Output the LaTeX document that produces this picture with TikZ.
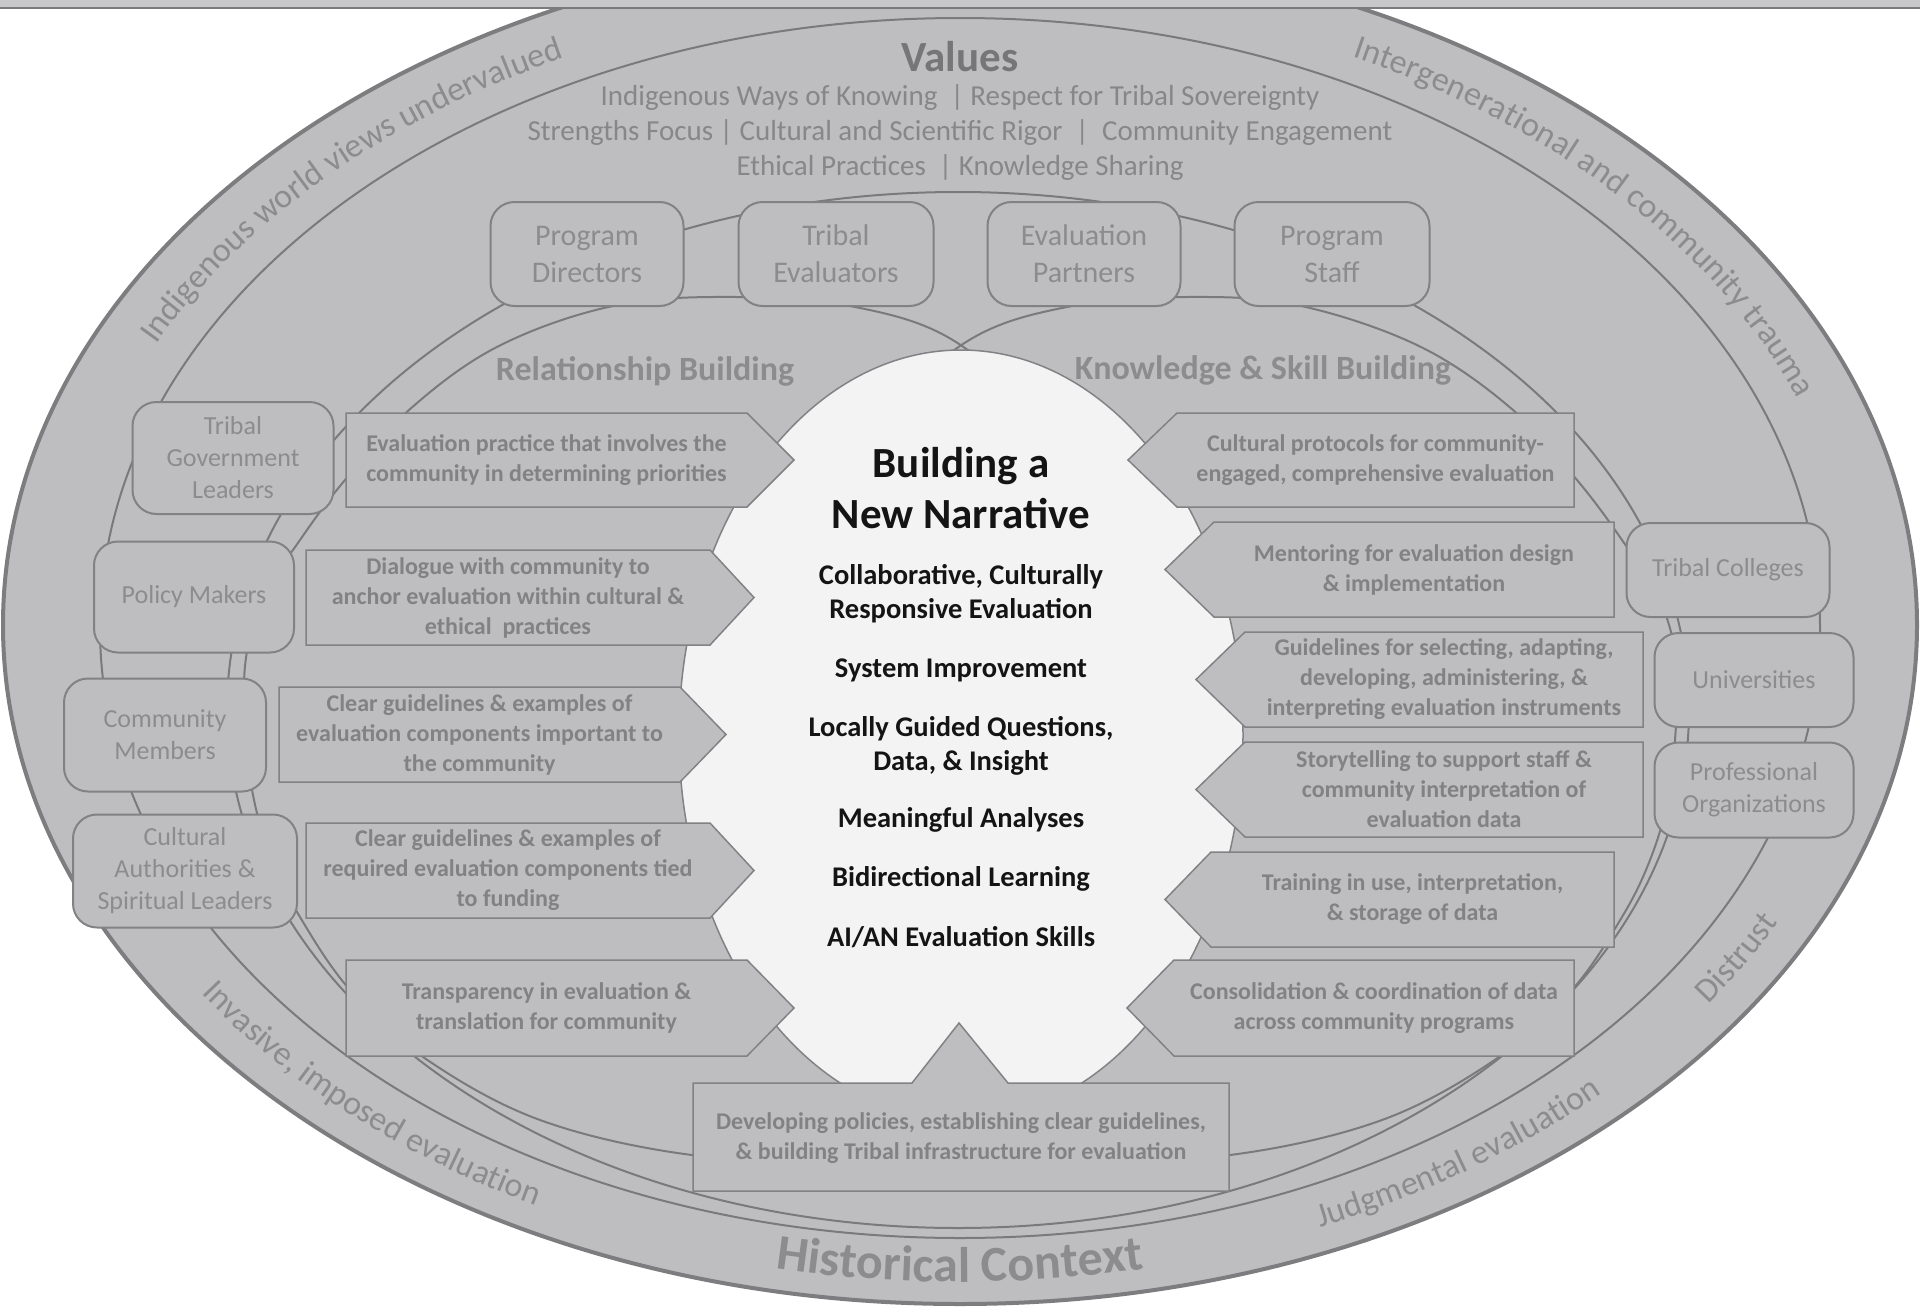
\documentclass[tikz,border=0pt]{standalone}
\usepackage{fontspec}
\setmainfont{Carlito}
\usetikzlibrary{decorations.text}
\definecolor{ringfill}{RGB}{190,190,193}
\definecolor{ringline}{RGB}{122,122,125}
\definecolor{outerline}{RGB}{125,125,128}
\definecolor{boxline}{RGB}{130,130,133}
\definecolor{staketext}{RGB}{140,140,142}
\definecolor{arrtext}{RGB}{130,130,132}
\definecolor{valtext}{RGB}{135,135,137}
\definecolor{headtext}{RGB}{118,118,120}
\definecolor{centerfill}{RGB}{243,243,244}
\definecolor{ringtext}{RGB}{140,140,143}
\definecolor{bandfill}{RGB}{200,200,203}
\newcommand{\ringfont}{\fontsize{34}{40}\selectfont}
\newcommand{\histfont}{\bfseries\fontsize{50}{56}\selectfont}
\begin{document}
\begin{tikzpicture}[x=1pt,y=-1pt,
  ringpath/.style={draw=ringline, line width=2pt},
  stake/.style={draw=boxline, line width=2pt, fill=ringfill, rounded corners=24pt, align=center, text=staketext, inner sep=0pt, font=\fontsize{26}{32}\selectfont},
  topstake/.style={stake, font=\fontsize{30}{37}\selectfont},
  arrowbox/.style={draw=boxline, line width=1.5pt, fill=ringfill},
  arrowtext/.style={align=center, text=arrtext, font=\bfseries\fontsize{24}{30}\selectfont},
  centertitle/.style={align=center, text=black!92, font=\bfseries\fontsize{43}{51}\selectfont},
  centertext/.style={align=center, text=black!92, font=\bfseries\fontsize{28.5}{34}\selectfont},
  ringlabel/.style={decorate, decoration={text along path, text align=center, text color=ringtext}},
  zonelabel/.style={text=staketext, font=\bfseries\fontsize{34}{40}\selectfont}
]
\useasboundingbox (0,0) rectangle (1920,1309);
\clip (0,0) rectangle (1920,1309);
\fill[white] (0,0) rectangle (1920,1309);

% rings
\draw[fill=ringfill, draw=outerline, line width=4pt] (960,625) ellipse [x radius=957pt, y radius=679pt];
\draw[ringpath] (960,628) ellipse [x radius=860pt, y radius=610pt];
\draw[ringpath] (958,710) ellipse [x radius=731pt, y radius=518pt];
% relationship building region
\draw[ringpath] plot[smooth cycle, tension=0.6] coordinates {
  (962,346) (850,306) (713,297) (604,308) (495,348) (409,410) (345,480) (300,540)
  (262,600) (245,666) (247,740) (254,800) (272,860) (300,917) (350,990) (423,1057)
  (540,1120) (692,1155) (850,1160) (1000,1060) (1100,850) (1110,650) (1060,450)};
% knowledge and skill building region
\draw[ringpath] plot[smooth cycle, tension=0.6] coordinates {
  (960,346) (1072,306) (1209,297) (1310,308) (1423,348) (1513,410) (1577,480) (1622,540)
  (1660,600) (1677,666) (1675,740) (1668,800) (1650,860) (1622,917) (1572,990) (1499,1057)
  (1382,1120) (1230,1155) (1072,1160) (922,1060) (822,850) (812,650) (862,450)};
\draw[fill=centerfill, draw=boxline, line width=1.5pt] (961,735) ellipse [x radius=282pt, y radius=385pt];

% ring texts
\path[ringlabel, decoration={text={|\ringfont|Indigenous world views undervalued}}]
  plot[variable=\t, domain=0:1, samples=60] ({960+898*cos(200+49*\t)},{627+634*sin(200+49*\t)});
\path[ringlabel, decoration={text={|\ringfont|Intergenerational and community trauma}}]
  plot[variable=\t, domain=0:1, samples=60] ({960+898*cos(292+52*\t)},{627+634*sin(292+52*\t)});
\path[ringlabel, decoration={text={|\ringfont|Invasive, imposed evaluation}}]
  plot[variable=\t, domain=0:1, samples=60] ({960+917*cos(150-36*\t)},{627+653*sin(150-36*\t)});
\path[ringlabel, decoration={text={|\ringfont|Judgmental evaluation}}]
  plot[variable=\t, domain=0:1, samples=60] ({960+917*cos(70-28*\t)},{627+653*sin(70-28*\t)});
\path[ringlabel, decoration={text={|\ringfont|Distrust}}]
  plot[variable=\t, domain=0:1, samples=40] ({960+917*cos(38-14*\t)},{627+653*sin(38-14*\t)});
\path[ringlabel, decoration={text={|\histfont|Historical Context}}]
  plot[variable=\t, domain=0:1, samples=60] ({960+918*cos(107-34*\t)},{627+655*sin(107-34*\t)});

% values
\node[text=headtext, font=\bfseries\fontsize{43}{48}\selectfont] (values) at (960,57) {Values};
\node[align=center, text=valtext, font=\fontsize{29}{35}\selectfont] (valuelist) at (960,133)
  {Indigenous Ways of Knowing~~| Respect for Tribal Sovereignty\\
   Strengths Focus | Cultural and Scientific Rigor~~|~~Community Engagement\\
   Ethical Practices~~| Knowledge Sharing};

% zone labels
\node[zonelabel] (relb) at (645,371) {Relationship Building};
\node[zonelabel] (ksb) at (1263,370) {Knowledge \& Skill Building};

% stakeholder boxes
\node[topstake, minimum width=193pt, minimum height=104pt] (pd) at (587,254) {Program\\Directors};
\node[topstake, minimum width=195pt, minimum height=104pt] (te) at (836,254) {Tribal\\Evaluators};
\node[topstake, minimum width=193pt, minimum height=104pt] (ep) at (1084,254) {Evaluation\\Partners};
\node[topstake, minimum width=195pt, minimum height=104pt] (ps) at (1332,254) {Program\\Staff};
\node[stake, minimum width=201pt, minimum height=112pt] (tgl) at (233,458) {Tribal\\Government\\Leaders};
\node[stake, minimum width=200pt, minimum height=111pt] (pm) at (194,597) {Policy Makers};
\node[stake, minimum width=202pt, minimum height=113pt] (cm) at (165,735) {Community\\Members};
\node[stake, minimum width=224pt, minimum height=113pt] (ca) at (185,871) {Cultural\\Authorities \&\\Spiritual Leaders};
\node[stake, minimum width=203pt, minimum height=94pt] (tc) at (1728,570) {Tribal Colleges};
\node[stake, minimum width=199pt, minimum height=94pt] (un) at (1754,680) {Universities};
\node[stake, minimum width=199pt, minimum height=95pt] (po) at (1754,790) {Professional\\Organizations};

% left arrows
\draw[arrowbox] (346,413) -- (747,413) -- (794,460) -- (747,507) -- (346,507) -- cycle;
\draw[arrowbox] (306,550) -- (710,550) -- (754,597.5) -- (710,645) -- (306,645) -- cycle;
\draw[arrowbox] (279,687) -- (680,687) -- (726,734.5) -- (680,782) -- (279,782) -- cycle;
\draw[arrowbox] (306,823) -- (710,823) -- (754,870.5) -- (710,918) -- (306,918) -- cycle;
\draw[arrowbox] (346,960) -- (747,960) -- (794,1008) -- (747,1056) -- (346,1056) -- cycle;
\node[arrowtext] (l1) at (546.5,460) {Evaluation practice that involves the\\community in determining priorities};
\node[arrowtext] (l2) at (508,597.5) {Dialogue with community to\\anchor evaluation within cultural \&\\ethical~~practices};
\node[arrowtext] (l3) at (479.5,734.5) {Clear guidelines \& examples of\\evaluation components important to\\the community};
\node[arrowtext] (l4) at (508,870.5) {Clear guidelines \& examples of\\required evaluation components tied\\to funding};
\node[arrowtext] (l5) at (546.5,1008) {Transparency in evaluation \&\\translation for community};

% right arrows
\draw[arrowbox] (1128,460) -- (1177,413) -- (1574,413) -- (1574,507) -- (1177,507) -- cycle;
\draw[arrowbox] (1165,569.5) -- (1214,522) -- (1614,522) -- (1614,617) -- (1214,617) -- cycle;
\draw[arrowbox] (1196,679.5) -- (1245,632) -- (1643,632) -- (1643,727) -- (1245,727) -- cycle;
\draw[arrowbox] (1196,789.5) -- (1245,742) -- (1643,742) -- (1643,837) -- (1245,837) -- cycle;
\draw[arrowbox] (1165,899.5) -- (1211,852) -- (1614,852) -- (1614,947) -- (1211,947) -- cycle;
\draw[arrowbox] (1127,1008) -- (1174,960) -- (1574,960) -- (1574,1056) -- (1174,1056) -- cycle;
\node[arrowtext] (r1) at (1375.5,460) {Cultural protocols for community-\\engaged, comprehensive evaluation};
\node[arrowtext] (r2) at (1414,569.5) {Mentoring for evaluation design\\\& implementation};
\node[arrowtext] (r3) at (1444,679.5) {Guidelines for selecting, adapting,\\developing, administering, \&\\interpreting evaluation instruments};
\node[arrowtext] (r4) at (1444,789.5) {Storytelling to support staff \&\\community interpretation of\\evaluation data};
\node[arrowtext] (r5) at (1412.5,899.5) {Training in use, interpretation,\\\& storage of data};
\node[arrowtext] (r6) at (1374,1008) {Consolidation \& coordination of data\\across community programs};

% bottom box
\draw[arrowbox] (693,1083) -- (912,1083) -- (959,1023) -- (1008,1083) -- (1229,1083) -- (1229,1191) -- (693,1191) -- cycle;
\node[arrowtext] (bot) at (961,1138) {Developing policies, establishing clear guidelines,\\\& building Tribal infrastructure for evaluation};

% center texts
\node[centertitle] (title) at (961,488) {Building a\\New Narrative};
\node[centertext] (c1) at (961,594) {Collaborative, Culturally\\Responsive Evaluation};
\node[centertext] (c2) at (961,670) {System Improvement};
\node[centertext] (c3) at (961,746) {Locally Guided Questions,\\Data, \& Insight};
\node[centertext] (c4) at (961,820) {Meaningful Analyses};
\node[centertext] (c5) at (961,879) {Bidirectional Learning};
\node[centertext] (c6) at (961,937) {AI/AN Evaluation Skills};

% top band
\fill[bandfill] (0,0) rectangle (1920,8);
\draw[ringline, line width=2.5pt] (0,8) -- (1920,8);
\end{tikzpicture}
\end{document}
